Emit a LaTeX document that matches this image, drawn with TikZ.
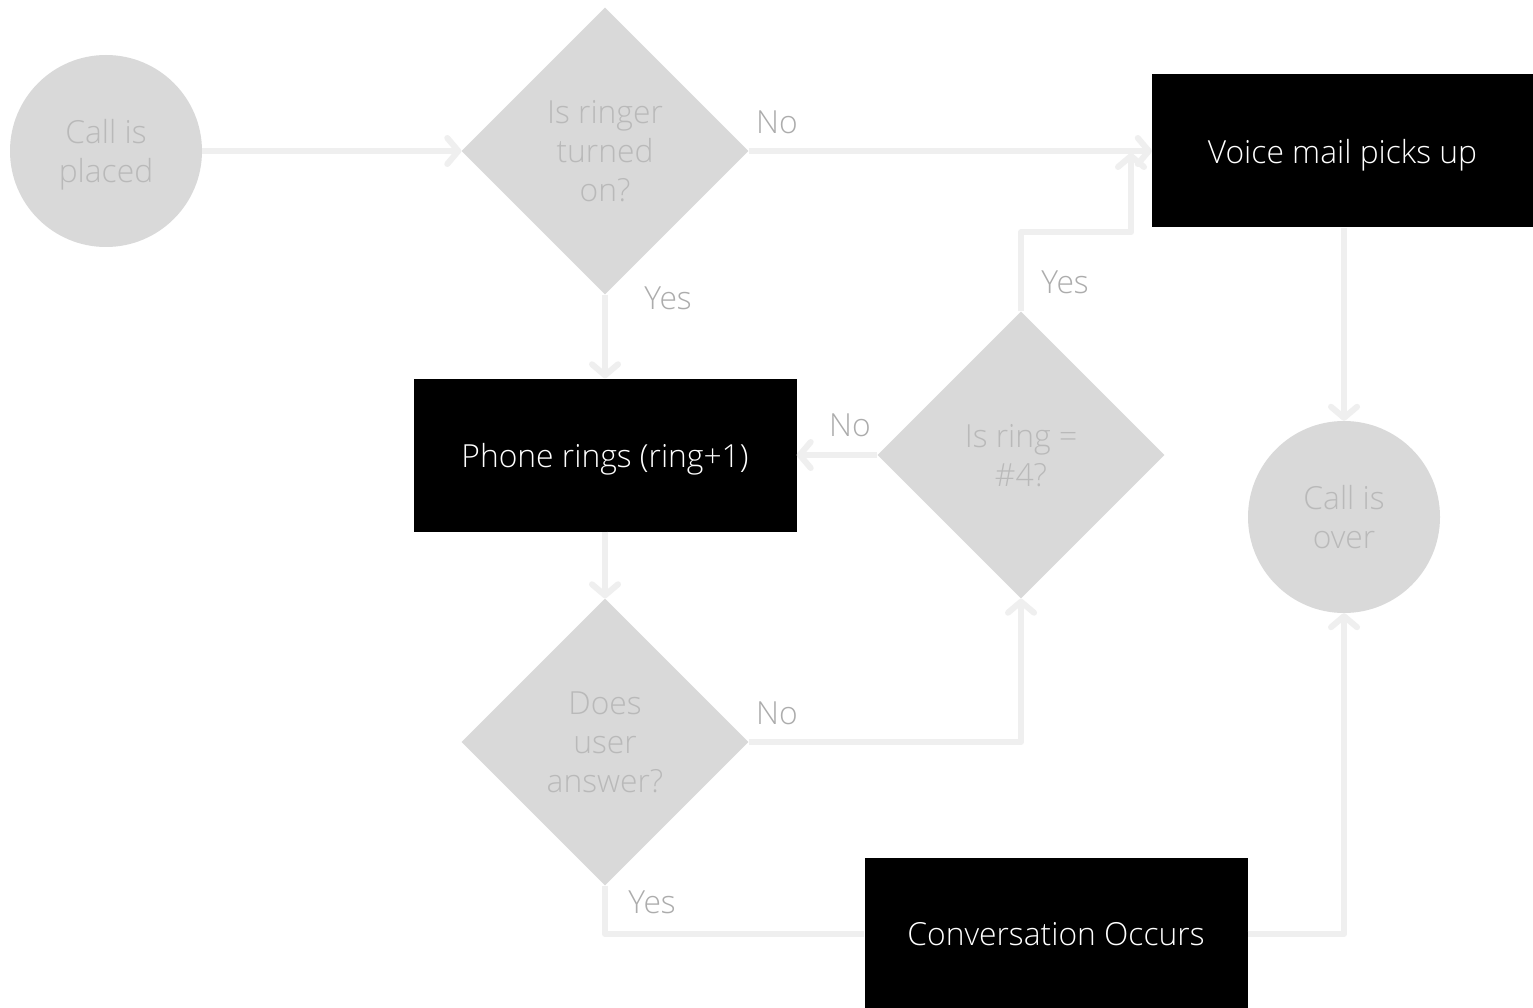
\documentclass[tikz,border=0pt]{standalone}
\usepackage{fontspec}
\setmainfont{Open Sans}[UprightFont=* Light]
\usetikzlibrary{shapes.geometric,arrows.meta}
\definecolor{shapefill}{HTML}{D9D9D9}
\definecolor{shapetext}{HTML}{B9B9B9}
\definecolor{labeltext}{HTML}{ACACAC}
\definecolor{linecol}{HTML}{EFEFEF}
\tikzset{
  x=1pt, y=-1pt,
  every node/.style={font=\fontsize{31.8}{39}\selectfont, inner sep=0pt, align=center, text depth=0pt},
  startend/.style={circle, fill=shapefill, text=shapetext, minimum size=192pt},
  decision/.style={diamond, fill=shapefill, text=shapetext, minimum width=287pt, minimum height=287pt, aspect=1},
  process/.style={rectangle, fill=black, text=white, minimum width=383pt, minimum height=153pt},
  lbl/.style={text=labeltext},
  conn/.style={draw=linecol, line width=6pt, line join=round},
  arr/.style={conn, -{Straight Barb[length=11pt, width=26pt, round]}},
}
\begin{document}
\begin{tikzpicture}
\useasboundingbox[fill=white] (0,0) rectangle (1533,1008);
\coordinate (vmjoin) at (1131,153);
\node[startend] (start) at (106,151) {Call is\\placed};
\node[decision] (d1) at (605,151) {Is ringer\\turned\\on?};
\node[process, minimum width=381pt] (vm) at (1342.5,151) {Voice mail picks up};
\node[process] (pr) at (605,455) {Phone rings (ring+1)};
\node[decision] (d2) at (1021,455) {Is ring =\\\#4?};
\node[startend] (over) at (1344,517) {Call is\\over};
\node[decision] (d3) at (605,742) {Does\\user\\answer?};
\node[process] (conv) at (1056,934) {Conversation Occurs};

\draw[arr] (start.east) -- (d1.west);
\draw[arr] (d1.east) -- (vm.west);
\draw[arr] (d1.south) -- (pr.north);
\draw[arr] (d2.north) -- ++(0,-79) -| (vmjoin);
\draw[arr] (d2.west) -- (pr.east);
\draw[arr] (pr.south) -- (d3.north);
\draw[arr] (d3.east) -| (d2.south);
\draw[conn] (d3.south) |- (conv.west);
\draw[arr] (conv.east) -| (over.south);
\draw[arr] (vm.south -| over.north) -- (over.north);

\node[lbl] (l1) at (777,122) {No};
\node[lbl] (l2) at (668,298) {Yes};
\node[lbl] (l3) at (1065,282) {Yes};
\node[lbl] (l4) at (850,425) {No};
\node[lbl] (l5) at (777,713) {No};
\node[lbl] (l6) at (652,902) {Yes};
\end{tikzpicture}
\end{document}
